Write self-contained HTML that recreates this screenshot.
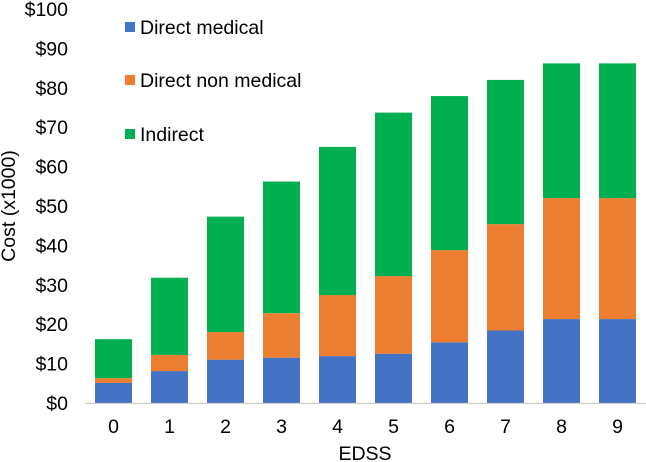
<!DOCTYPE html>
<html><head><meta charset="utf-8"><style>
body{margin:0;background:#fff;}
svg{display:block;font-family:"Liberation Sans",Arial,sans-serif;}
</style></head><body>
<svg id="chart" width="646" height="462" viewBox="0 0 646 462" xmlns="http://www.w3.org/2000/svg">
<g id="grid"></g><g id="bars"></g><g id="axes"></g><g id="legend"></g>
<text transform="translate(15,206) rotate(-90)" text-anchor="middle" font-size="19.5">Cost (x1000)</text>
<text x="365" y="460" text-anchor="middle" font-size="19.5">EDSS</text>
</svg>
<script>
const categories=["0","1","2","3","4","5","6","7","8","9"];
const directMedical=[5.1,8.1,11.0,11.5,11.9,12.5,15.4,18.4,21.3,21.3];
const directNonMedical=[1.2,4.1,7.0,11.3,15.5,19.7,23.4,27.0,30.7,30.7];
const indirect=[9.9,19.6,29.3,33.4,37.6,41.5,39.1,36.6,34.2,34.2];
const yTicks=[0,10,20,30,40,50,60,70,80,90,100];
const seriesNames=["Direct medical","Direct non medical","Indirect"];
const colors=["#4472c4","#ed7d31","#00b050"];
const NS="http://www.w3.org/2000/svg";
const y0=403,pxPer=3.94,x0=95,step=56,bw=37;
const yScale=v=>y0-v*pxPer;
const xScale=i=>x0+i*step;
function mk(tag,attrs,parent){const e=document.createElementNS(NS,tag);for(const k in attrs)e.setAttribute(k,attrs[k]);parent.appendChild(e);return e;}
const axes=document.getElementById('axes'),bars=document.getElementById('bars'),legend=document.getElementById('legend');
yTicks.forEach(t=>{const e=mk('text',{x:68,y:yScale(t)+7,'text-anchor':'end','font-size':19.5},axes);e.textContent='$'+t;

});
const al=mk('line',{x1:85,x2:646,y1:y0+0.5,y2:y0+0.5,stroke:'#d0d0d0','stroke-width':1.2},axes);


const series=[directMedical,directNonMedical,indirect];
categories.forEach((c,i)=>{let cum=0;
series.forEach((s,k)=>{const top=cum+s[i];
const r=mk('rect',{x:xScale(i),y:yScale(top),width:bw,height:yScale(cum)-yScale(top),fill:colors[k]},bars);


cum=top;});
const t=mk('text',{x:xScale(i)+bw/2,y:433,'text-anchor':'middle','font-size':19.5},axes);t.textContent=c;

});
const ly=[27,80,134];
seriesNames.forEach((n,k)=>{const r=mk('rect',{x:125,y:ly[k]-5,width:10,height:10,fill:colors[k]},legend);


const t=mk('text',{x:140,y:ly[k]+7,'font-size':19.5},legend);t.textContent=n;

});
</script>
</body></html>
